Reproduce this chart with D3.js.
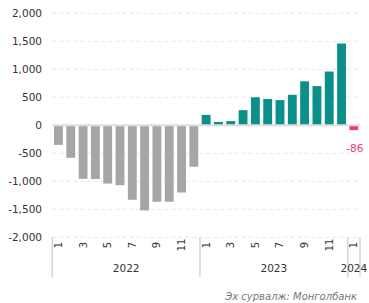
<!DOCTYPE html>
<html>
<head>
<meta charset="utf-8">
<script src="https://cdn.jsdelivr.net/npm/d3@7"></script>
<style>
  body { margin: 0; background: #fff; }
  svg { display: block; font-family: "DejaVu Sans", sans-serif; }
</style>
</head>
<body>
<div class="chart"></div>
<script>
// monthly values, Jan 2022 .. Jan 2024
var years = ['2022', '2023', '2024'];
var months2022 = [-350, -580, -955, -960, -1040, -1070, -1330, -1520, -1365, -1365, -1200, -740];
var months2023 = [185, 60, 75, 270, 500, 470, 450, 545, 785, 700, 960, 1460];
var months2024 = [-86];
var yTicks = [-2000, -1500, -1000, -500, 0, 500, 1000, 1500, 2000];
var source = 'Эх сурвалж: Монголбанк';

(function() {
  'use strict';

  var data = [];
  [months2022, months2023, months2024].forEach(function(arr, yi) {
    arr.forEach(function(v, i) {
      data.push({ year: years[yi], month: i + 1, value: v, key: years[yi] + '-' + (i + 1) });
    });
  });

  var width = 369, height = 303;
  var mLeft = 52.3, mRight = 360, mTop = 13.3, mBottom = 237.3;

  // plain hyphen for negatives, like the original
  var fmt = function(v) { return d3.format(',')(v).replace('\u2212', '-'); };

  var svg = d3.select('.chart').append('svg')
    .attr('width', width)
    .attr('height', height);

  var x = d3.scaleBand()
    .domain(data.map(function(d) { return d.key; }))
    .range([mLeft, mRight])
    .paddingInner(0.28)
    .paddingOuter(0.14);

  var y = d3.scaleLinear().domain([-2000, 2000]).range([mBottom, mTop]);

  // grid
  svg.append('g').selectAll('line')
    .data(yTicks.filter(function(t) { return t !== 0; }))
    .enter().append('line')
    .attr('x1', mLeft).attr('x2', mRight)
    .attr('y1', function(d) { return y(d); })
    .attr('y2', function(d) { return y(d); })
    .attr('stroke', '#e6e6e6')
    .attr('stroke-width', 1)
    .attr('stroke-dasharray', '4,3');

  // y labels
  var yAxis = d3.axisLeft(y).tickValues(yTicks).tickSize(0).tickPadding(0).tickFormat(fmt);
  var ya = svg.append('g').attr('transform', 'translate(42,0)').call(yAxis);
  ya.select('.domain').remove();
  ya.selectAll('text').attr('fill', '#333').attr('font-size', 10.5).attr('font-family', '"DejaVu Sans", sans-serif');

  // bars
  svg.append('g').selectAll('rect')
    .data(data)
    .enter().append('rect')
    .attr('x', function(d) { return x(d.key); })
    .attr('width', x.bandwidth())
    .attr('y', function(d) { return y(Math.max(0, d.value)); })
    .attr('height', function(d) { return Math.abs(y(d.value) - y(0)); })
    .attr('fill', function(d) {
      if (d.year === '2022') return '#a6a6a6';
      if (d.year === '2023') return '#0a8f8a';
      return '#e8407a';
    });

  // zero line
  svg.append('line')
    .attr('x1', mLeft).attr('x2', mRight)
    .attr('y1', y(0)).attr('y2', y(0))
    .attr('stroke', '#dedede').attr('stroke-width', 2);

  // last value label
  var last = data[data.length - 1];
  svg.append('text')
    .attr('x', x(last.key) + x.bandwidth() / 2 + 1)
    .attr('y', y(last.value) + 22)
    .attr('text-anchor', 'middle')
    .attr('fill', '#e8407a')
    .attr('font-size', 10.5)
    .text(fmt(last.value));

  // month labels (odd months)
  svg.append('g').selectAll('text')
    .data(data.filter(function(d) { return d.month % 2 === 1; }))
    .enter().append('text')
    .attr('transform', function(d) {
      return 'translate(' + (x(d.key) + x.bandwidth() / 2 + 3.5) + ',245) rotate(-90)';
    })
    .attr('text-anchor', 'middle')
    .attr('fill', '#333')
    .attr('font-size', 10)
    .text(function(d) { return d.month; });

  // year separators and labels
  var bounds = [];
  years.forEach(function(yr) {
    var ds = data.filter(function(d) { return d.year === yr; });
    var x0 = x(ds[0].key) - x.step() * x.paddingInner() / 2;
    var x1 = x(ds[ds.length - 1].key) + x.bandwidth() + x.step() * x.paddingInner() / 2;
    if (yr === years[0]) x0 = mLeft;
    if (yr === years[years.length - 1]) x1 = mRight;
    bounds.push({ year: yr, x0: x0, x1: x1 });
  });
  var seps = [mLeft].concat(bounds.map(function(b) { return b.x1; }));
  svg.append('g').selectAll('line')
    .data(seps)
    .enter().append('line')
    .attr('x1', function(d) { return d; }).attr('x2', function(d) { return d; })
    .attr('y1', mBottom).attr('y2', 277)
    .attr('stroke', '#d3d3d3').attr('stroke-width', 1.5);

  svg.append('g').selectAll('text')
    .data(bounds)
    .enter().append('text')
    .attr('x', function(d) { return (d.x0 + d.x1) / 2; })
    .attr('y', 272)
    .attr('text-anchor', 'middle')
    .attr('fill', '#333')
    .attr('font-size', 10.5)
    .text(function(d) { return d.year; });

  // source
  svg.append('text')
    .attr('x', 357)
    .attr('y', 300)
    .attr('text-anchor', 'end')
    .attr('fill', '#777')
    .attr('font-size', 10)
    .attr('font-style', 'italic')
    .text(source);
})();
</script>
</body>
</html>
